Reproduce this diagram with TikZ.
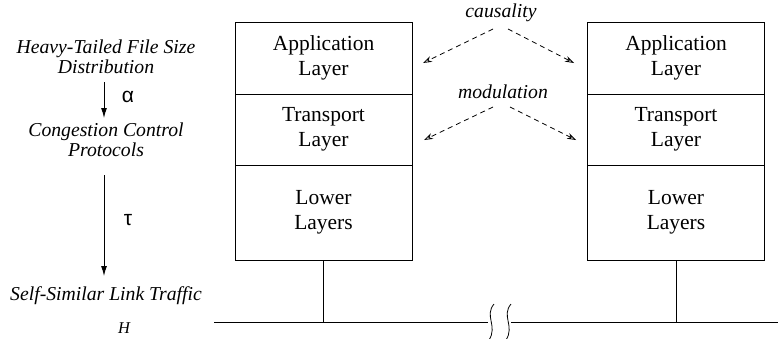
\documentclass[tikz,border=0pt]{standalone}
\usepackage{fontspec}
\setmainfont{Liberation Serif}
\newfontfamily\greekfont{Liberation Sans}
\usetikzlibrary{arrows.meta}
\begin{document}
\begin{tikzpicture}[x=1pt,y=-1pt,line width=1pt,
  layerbox/.style={draw,minimum width=177pt,inner sep=0pt,align=center,
    font=\fontsize{21.5}{25}\selectfont},
  itlabel/.style={align=center,inner sep=2pt,font=\fontsize{19.7}{20}\selectfont\itshape},
  solidarr/.style={-{Latex[length=10pt,width=6pt]}},
  dasharr/.style={dashed,dash pattern=on 5pt off 4pt,line width=0.8pt,-{Stealth[open,length=9pt,width=6pt]}},
  greek/.style={font=\fontsize{21}{21}\greekfont}]
\useasboundingbox (0,0) rectangle (778,338);
% left stack
\node[layerbox,minimum height=72pt] (appL) at (323.5,58) {Application\\Layer};
\node[layerbox,minimum height=71pt] (trL) at (323.5,129.5) {Transport\\Layer};
\node[layerbox,minimum height=95pt] (lowL) at (323.5,212.5) {Lower\\Layers};
% right stack
\node[layerbox,minimum height=72pt] (appR) at (676,58) {Application\\Layer};
\node[layerbox,minimum height=71pt] (trR) at (676,129.5) {Transport\\Layer};
\node[layerbox,minimum height=95pt] (lowR) at (676,212.5) {Lower\\Layers};
% bus
\coordinate (busA) at (214,322);
\coordinate (busB) at (488,322);
\coordinate (busC) at (511,322);
\coordinate (busD) at (778,322);
\coordinate (stemL) at (323.5,322);
\coordinate (stemR) at (676,322);
\draw (busA) -- (busB);
\draw (busC) -- (busD);
\draw (lowL.south) -- (stemL);
\draw (lowR.south) -- (stemR);
\draw[line width=0.8pt] (494,304) .. controls (484,316) and (498,326) .. (489,340);
\draw[line width=0.8pt] (511,304) .. controls (501,316) and (515,326) .. (506,340);
% dashed arrows
\node[itlabel] (caus) at (501,13) {causality};
\node[itlabel] (mod) at (503,92) {modulation};
\coordinate (c1) at (493,29);
\coordinate (c2) at (508,29);
\coordinate (c1e) at (423,63);
\coordinate (c2e) at (574,63);
\coordinate (m1) at (493,107);
\coordinate (m2) at (510,107);
\coordinate (m1e) at (424,140);
\coordinate (m2e) at (576,140);
\draw[dasharr] (c1) -- (c1e);
\draw[dasharr] (c2) -- (c2e);
\draw[dasharr] (m1) -- (m1e);
\draw[dasharr] (m2) -- (m2e);
% left chain
\node[itlabel] (heavy) at (106,57) {Heavy-Tailed File Size\\Distribution};
\node[itlabel] (cong) at (106,140) {Congestion Control\\Protocols};
\node[itlabel] (self) at (106,296) {Self-Similar Link Traffic};
\node[font=\fontsize{16.5}{16.5}\selectfont\itshape] (H) at (124,328) {H};
\coordinate (a1) at (104,82);
\coordinate (a1e) at (104,118);
\coordinate (a2) at (104,175);
\coordinate (a2e) at (104,276);
\draw[solidarr] (a1) -- (a1e);
\draw[solidarr] (a2) -- (a2e);
\node[greek] (alpha) at (128,97) {α};
\node[greek] (tau) at (128,220) {τ};
\end{tikzpicture}
\end{document}
